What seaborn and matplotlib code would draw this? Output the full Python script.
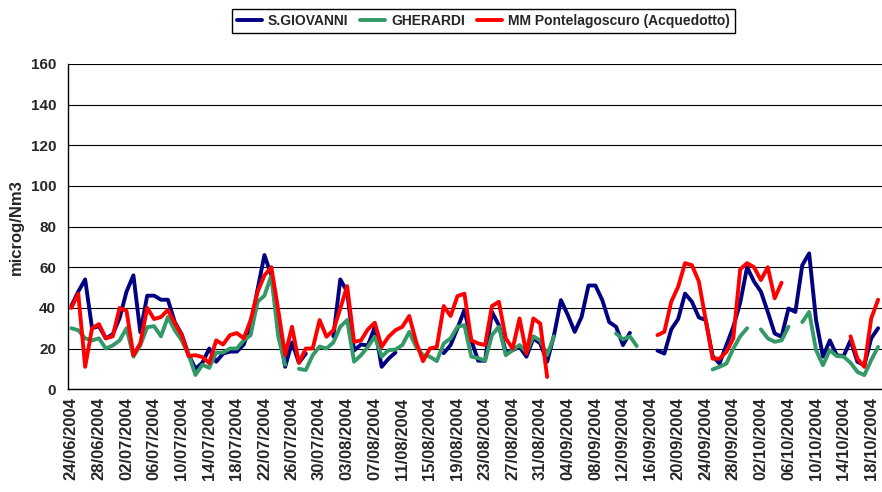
import numpy as np
import pandas as pd
import matplotlib
matplotlib.use("Agg")
import matplotlib.pyplot as plt
import seaborn as sns

# date giornaliere (asse a categorie)
dates = pd.date_range("2004-06-24", "2004-10-19", freq="D")
date_labels = list(dates.strftime("%d/%m/%Y"))

nan = np.nan

# valori (microg/Nm3)
s_giovanni = [41, 48, 54, 30, 31, 25, 27, 35, 48, 56,
              28, 46, 46, 44, 44, 33, 27, 17, 10, 13,
              20, 13.5, 17.5, 18.5, 18.5, 22, 31, 49, 66, 56,
              31, 11, 23, 13, 17.5, nan, nan, nan, 26, 54,
              48, 19, 22, 21.5, 30.5, 11, 15, 18, nan, nan,
              nan, nan, nan, nan, 17.7, 21.7, 30, 39, 24, 14,
              14, 38, 31.5, 18.4, 19.2, 20.8, 16, 25, 22.5, 13.5,
              26.6, 43.8, 36.5, 28.2, 35.6, 51, 51, 43.8, 33, 30.7,
              21.7, 27.7, nan, nan, nan, 19, 17.5, 29.4, 34.5, 47,
              43, 35.3, 34, 16.3, 12.6, 21.7, 30.7, 42.5, 60, 53,
              48, 38, 27.4, 25.8, 39.7, 38, 61, 66.8, 34, 16,
              24, 16.7, 16.3, 24, 13.5, 11.8, 25, 30]

gherardi = [30, 29, 25, 24, 25, 20, 21.5, 24, 30, 16,
            21.6, 30.5, 31, 26, 35.5, 29, 24, 17, 7, 12,
            10.5, 18, 18, 20, 20, 24, 26.6, 43, 46, 56,
            26, 12, nan, 10, 9.4, 16.7, 21, 20, 23, 30.7,
            34, 13.5, 16.7, 20.8, 25.8, 16, 19.2, 19.5, 21.7, 28.2,
            20.8, 16.7, 16, 13.8, 22.5, 25, 30.7, 31.5, 16, 15.3,
            14, 26.6, 30.7, 16.7, 19.2, 21.7, 18.4, 26, 24, 16.7,
            26, nan, nan, nan, nan, nan, nan, nan, nan, 27.4,
            24.5, 26, 21.2, nan, nan, nan, nan, nan, nan, nan,
            nan, nan, nan, 9.7, 11, 12.6, 20, 26, 30, nan,
            29.4, 25, 23.3, 24, 30.7, nan, 33, 38, 19.2, 11.8,
            19.2, 16.3, 16, 13, 8.5, 6.9, 14.3, 20.8]

pontelagoscuro = [40, 47, 11, 30, 32, 25, 26, 40, 38.5, 16.7,
                  22.6, 40, 34.5, 35.5, 39, 32.5, 26.6, 16.3, 16.7, 15.8,
                  12.8, 24, 22, 26.6, 27.6, 25, 34, 47.8, 56, 60,
                  39, 16.7, 30.7, 13, 20, 20, 34, 25.8, 29, 39.7,
                  50.7, 23.3, 24, 29.4, 32.7, 20.8, 25.8, 29, 30.7, 36,
                  23.3, 13.8, 20, 20.8, 40.9, 36, 45.8, 47, 24, 22.5,
                  21.7, 40.9, 43, 25, 20, 34.8, 17.5, 34.8, 32.3, 6,
                  nan, nan, nan, nan, nan, nan, nan, nan, nan, nan,
                  nan, nan, nan, nan, nan, 26.6, 28.2, 43, 50.4, 62,
                  61, 53, 34, 15, 15, 18.4, 25, 59, 62, 60,
                  53.7, 60, 44.7, 52.4, nan, nan, nan, nan, nan, nan,
                  nan, nan, nan, 26, 15, 11, 34.8, 44]

series_names = ["S.GIOVANNI", "GHERARDI", "MM Pontelagoscuro (Acquedotto)"]
series_colors = ["#000080", "#339966", "#FF0000"]

# formato lungo, con un id per ogni tratto continuo (i buchi restano buchi)
frames = []
for name, vals in zip(series_names, [s_giovanni, gherardi, pontelagoscuro]):
    v = pd.Series(vals, dtype=float)
    d = pd.DataFrame({"day": np.arange(len(v)), "value": v, "serie": name,
                      "seg": v.isna().cumsum()})
    frames.append(d.dropna())
df = pd.concat(frames, ignore_index=True)
df["unit"] = df["serie"] + "_" + df["seg"].astype(str)

sns.set_style("white")
plt.rcParams["font.family"] = ["Liberation Sans", "DejaVu Sans"]

fig, ax = plt.subplots(figsize=(8.82, 4.92), dpi=100)
fig.subplots_adjust(left=0.077, right=0.9995, bottom=0.209, top=0.870)

sns.lineplot(data=df, x="day", y="value", hue="serie", units="unit", estimator=None,
             hue_order=series_names, palette=dict(zip(series_names, series_colors)),
             linewidth=2.8, ax=ax)

ax.set_xlim(-0.5, len(dates) - 0.5)
ax.set_ylim(0, 160)
ax.set_yticks(np.arange(0, 161, 20))
ax.yaxis.grid(True, color="black", linewidth=0.8)
ax.set_axisbelow(True)

tick_pos = np.arange(0, len(dates), 4)
ax.set_xticks(tick_pos)
ax.set_xticklabels([date_labels[i] for i in tick_pos], rotation=90, fontweight="bold", fontsize=12)
ax.set_xticks(np.arange(-0.5, len(dates), 1), minor=True)
ax.tick_params(axis="x", which="major", length=0, pad=6)
ax.tick_params(axis="x", which="minor", length=4, width=0.8, color="black", direction="out")
ax.tick_params(axis="y", length=5, width=0.8, color="black", direction="out", labelsize=11)
for t in ax.get_yticklabels():
    t.set_fontweight("bold")

ax.set_xlabel("")
ax.set_ylabel("microg/Nm3", fontweight="bold", fontsize=12, labelpad=5)

for s in ["top", "right"]:
    ax.spines[s].set_visible(False)
for s in ["left", "bottom"]:
    ax.spines[s].set_color("black")
    ax.spines[s].set_linewidth(1)

handles, labels = ax.get_legend_handles_labels()
ax.get_legend().remove()
leg = fig.legend(handles, labels, loc="center", bbox_to_anchor=(0.548, 0.957), ncol=3,
                 frameon=True, fancybox=False, framealpha=1, edgecolor="black",
                 prop={"weight": "bold", "size": 10}, handlelength=1.8,
                 handletextpad=0.4, columnspacing=0.9, borderpad=0.35)
leg.get_frame().set_linewidth(1)

fig.savefig("out.png", dpi=100)
